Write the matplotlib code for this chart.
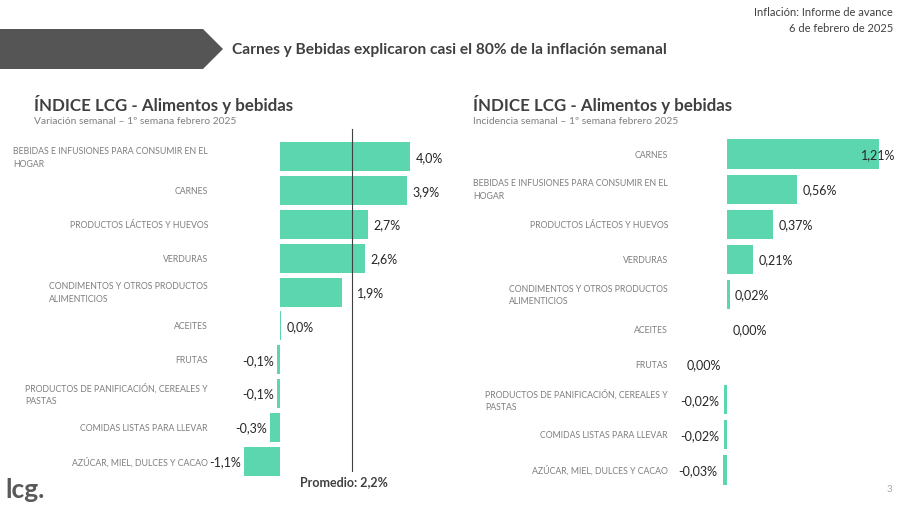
import matplotlib
matplotlib.use("Agg")
import matplotlib.pyplot as plt
import matplotlib.transforms as mtrans
from matplotlib.patches import Polygon

plt.rcParams['font.family'] = ['Lato', 'DejaVu Sans']

# ---------------- data ----------------
cats_var = ["BEBIDAS E INFUSIONES PARA CONSUMIR EN EL\nHOGAR", "CARNES",
            "PRODUCTOS LÁCTEOS Y HUEVOS", "VERDURAS",
            "CONDIMENTOS Y OTROS PRODUCTOS\nALIMENTICIOS", "ACEITES", "FRUTAS",
            "PRODUCTOS DE PANIFICACIÓN, CEREALES Y\nPASTAS",
            "COMIDAS LISTAS PARA LLEVAR", "AZÚCAR, MIEL, DULCES Y CACAO"]
vals_var = [4.0, 3.9, 2.7, 2.6, 1.9, 0.04, -0.1, -0.1, -0.3, -1.1]
promedio = 2.2

cats_inc = ["CARNES", "BEBIDAS E INFUSIONES PARA CONSUMIR EN EL\nHOGAR",
            "PRODUCTOS LÁCTEOS Y HUEVOS", "VERDURAS",
            "CONDIMENTOS Y OTROS PRODUCTOS\nALIMENTICIOS", "ACEITES", "FRUTAS",
            "PRODUCTOS DE PANIFICACIÓN, CEREALES Y\nPASTAS",
            "COMIDAS LISTAS PARA LLEVAR", "AZÚCAR, MIEL, DULCES Y CACAO"]
vals_inc = [1.21, 0.56, 0.37, 0.21, 0.02, 0.003, -0.003, -0.02, -0.02, -0.03]

BAR = "#5CD6AF"
DARK = "#262626"
GRAY = "#7F7F7F"
W, H = 900, 506

fig = plt.figure(figsize=(9, 5.06), dpi=100)


def px(x, y):
    return x / W, 1 - y / H


def fmt(v, d):
    s = f"{abs(v):.{d}f}".replace(".", ",")
    if round(abs(v), d) == 0:
        return s + "%"
    return ("-" if v < 0 else "") + s + "%"


def make_axes(left, right, top, bottom):
    return fig.add_axes([left / W, 1 - bottom / H, (right - left) / W, (bottom - top) / H])


VAL_FS = 9
CAT_FS = 6.3

# ---------------- left chart ----------------
zero_l, scale_l = 280, 32.5
axl = make_axes(240, 430, 141, 479)
axl.set_xlim((240 - zero_l) / scale_l, (430 - zero_l) / scale_l)
axl.set_ylim(9.5, -0.5)
ypos = list(range(len(vals_var)))
axl.barh(ypos, vals_var, height=0.86, color=BAR)
axl.axis("off")
axl.plot([promedio, promedio], [-0.83, 9.29], color="#404040", lw=0.8, clip_on=False)
for y, v in zip(ypos, vals_var):
    if v >= 0:
        x = v
        if promedio - 0.5 < v < promedio:
            x = promedio
        axl.annotate(fmt(v, 1), (x, y), xytext=(4, 0), textcoords="offset points",
                     ha="left", va="center", fontsize=VAL_FS, color=DARK)
    else:
        axl.annotate(fmt(v, 1), (v, y), xytext=(-2, 0), textcoords="offset points",
                     ha="right", va="center", fontsize=VAL_FS, color=DARK)

trl = mtrans.blended_transform_factory(fig.transFigure, axl.transData)
for y, c in zip(ypos, cats_var):
    axl.text(208 / W, y, c, transform=trl, ha="right", va="center", multialignment="left",
             fontsize=CAT_FS, color=GRAY, linespacing=1.55)

fig.text(*px(344, 482), "Promedio: 2,2%", ha="center", va="center",
         fontsize=9, fontweight="bold", color="#404040")

# ---------------- right chart ----------------
zero_r, scale_r = 727, 125.6
axr = make_axes(690, 895, 137.5, 488.5)
axr.set_xlim((690 - zero_r) / scale_r, (895 - zero_r) / scale_r)
axr.set_ylim(9.5, -0.5)
axr.barh(ypos, vals_inc, height=0.83, color=BAR)
axr.axis("off")
xmax_r = axr.get_xlim()[1]
for y, v in zip(ypos, vals_inc):
    lab = fmt(v, 2)
    if v == max(vals_inc):
        axr.text(xmax_r, y, lab, ha="right", va="center", fontsize=VAL_FS, color=DARK)
    elif v >= 0:
        axr.annotate(lab, (v, y), xytext=(4, 0), textcoords="offset points",
                     ha="left", va="center", fontsize=VAL_FS, color=DARK)
    else:
        axr.annotate(lab, (v, y), xytext=(-4, 0), textcoords="offset points",
                     ha="right", va="center", fontsize=VAL_FS, color=DARK)
trr = mtrans.blended_transform_factory(fig.transFigure, axr.transData)
for y, c in zip(ypos, cats_inc):
    axr.text(668 / W, y, c, transform=trr, ha="right", va="center", multialignment="left",
             fontsize=CAT_FS, color=GRAY, linespacing=1.55)

# ---------------- titles ----------------
fig.text(*px(34, 104), "ÍNDICE LCG - Alimentos y bebidas", ha="left", va="center",
         fontsize=12.2, fontweight="bold", color="#404040")
fig.text(*px(34, 122), "Variación semanal – 1º semana febrero 2025", ha="left", va="center",
         fontsize=7.4, color=GRAY)
fig.text(*px(473, 104), "ÍNDICE LCG - Alimentos y bebidas", ha="left", va="center",
         fontsize=12.2, fontweight="bold", color="#404040")
fig.text(*px(473, 122), "Incidencia semanal – 1º semana febrero 2025", ha="left", va="center",
         fontsize=7.4, color=GRAY)

# header
shape = Polygon([px(0, 30), px(203, 30), px(223, 50), px(203, 70), px(0, 70)],
                closed=True, transform=fig.transFigure, facecolor="#555555", edgecolor="none")
fig.patches.append(shape)
fig.text(*px(232, 50), "Carnes y Bebidas explicaron casi el 80% de la inflación semanal",
         ha="left", va="center", fontsize=11.2, fontweight="bold", color="#404040")
fig.text(*px(893, 13), "Inflación: Informe de avance", ha="right", va="center",
         fontsize=8, color="#404040")
fig.text(*px(893, 28), "6 de febrero de 2025", ha="right", va="center",
         fontsize=8, color="#404040")

fig.text(*px(5, 490), "lcg.", ha="left", va="center", fontsize=19, fontweight="bold",
         color="#595959")
fig.text(*px(889, 490), "3", ha="center", va="center", fontsize=7, color="#A6A6A6")

fig.savefig("out.png", dpi=100)
